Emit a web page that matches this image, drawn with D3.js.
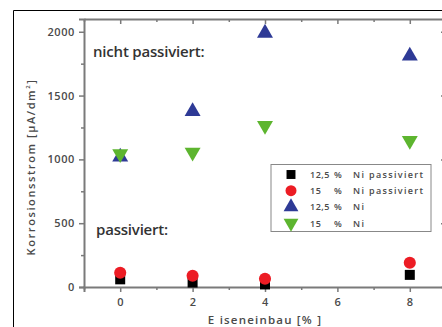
<!DOCTYPE html>
<html><head><meta charset="utf-8">
<script src="https://cdn.jsdelivr.net/npm/d3@7"></script>
<style>body{margin:0;background:#fff;overflow:hidden}svg{display:block}</style>
</head><body>
<script>
const xValues = [0, 2, 4, 8];
const seriesPct = ["12,5", "15", "12,5", "15"];
const seriesNames = ["Ni passiviert", "Ni passiviert", "Ni", "Ni"];
const ni125Passiv = [60, 35, 20, 95];
const ni15Passiv = [112, 88, 65, 190];
const ni125 = [1020, 1375, 1990, 1810];
const ni15 = [1043, 1055, 1265, 1148];
const xTicks = [0, 2, 4, 6, 8];
const yTicks = [0, 500, 1000, 1500, 2000];
const colors = ["#000000", "#ec1c24", "#2e3a96", "#5db52f"];
const shapes = ["square", "circle", "up", "down"];

const W = 442, H = 327;
const svg = d3.select("body").append("svg").attr("width", W).attr("height", H);
const x = d3.scaleLinear().domain([-1, 9]).range([84, 446]);
const y = d3.scaleLinear().domain([0, 2100]).range([287, 19]);
const axisColor = "#7a7a7a";
const textColor = "#4a4a4a";
const font = "'Open Sans', sans-serif";

// outer frame
svg.append("path").attr("d", "M13.5,330 V10.5 H445").attr("fill", "none").attr("stroke", "#000").attr("stroke-width", 1);

// axes
const gL = svg.append("g").attr("transform", `translate(${x(-1)},0)`);
gL.call(d3.axisLeft(y).tickValues(d3.range(0, 2101, 250)).tickSize(5).tickFormat(d => yTicks.includes(d) ? d : ""));
gL.selectAll(".tick line").attr("x2", d => yTicks.includes(d) ? -5 : -3);
const gB = svg.append("g").attr("transform", `translate(0,${y(0)})`);
gB.call(d3.axisBottom(x).tickValues(d3.range(-1, 10, 1)).tickSize(5).tickFormat(d => xTicks.includes(d) ? d : ""));
gB.selectAll(".tick line").attr("y2", d => xTicks.includes(d) ? 5 : 3);
const gT = svg.append("g").attr("transform", `translate(0,${y(2100)})`);
gT.call(d3.axisBottom(x).tickValues(d3.range(-1, 10, 1)).tickSize(0).tickFormat(""));
gT.selectAll(".tick line").attr("y2", d => xTicks.includes(d) ? 5 : 3);
const gR = svg.append("g").attr("transform", `translate(${x(9)},0)`);
gR.call(d3.axisLeft(y).tickValues(d3.range(0, 2101, 250)).tickSize(0).tickFormat(""));
gR.selectAll(".tick line").attr("x2", d => yTicks.includes(d) ? -5 : -3);
[gL, gB, gT, gR].forEach(g => {
  g.selectAll(".domain").attr("stroke", axisColor).attr("stroke-width", 2);
  g.selectAll(".tick line").attr("stroke", axisColor).attr("stroke-width", 1.5);
  g.selectAll("text").attr("fill", textColor).attr("font-family", font).attr("font-size", 11).attr("font-weight", 600).attr("letter-spacing", 0.6);
});
gL.selectAll("text").attr("x", -9);
gB.selectAll("text").attr("y", 11);

// annotations
svg.append("text").attr("x", 93).attr("y", 57).text("nicht passiviert:")
  .attr("font-family", font).attr("font-size", 15).attr("font-weight", 600).attr("fill", "#333").attr("letter-spacing", -0.2);
svg.append("text").attr("x", 96).attr("y", 235).text("passiviert:")
  .attr("font-family", font).attr("font-size", 15).attr("font-weight", 600).attr("fill", "#333").attr("letter-spacing", -0.2);

// axis titles
svg.append("text").attr("transform", "translate(35,167) rotate(-90)").attr("text-anchor", "middle")
  .attr("font-family", font).attr("font-size", 11).attr("font-weight", 600).attr("fill", textColor)
  .attr("letter-spacing", 1.6)
  .html('Korrosionsstrom  [µA/dm<tspan dy="-5" font-size="6">2</tspan><tspan dy="5">]</tspan>');
svg.append("text").attr("x", 265).attr("y", 324).attr("text-anchor", "middle")
  .attr("font-family", font).attr("font-size", 11.5).attr("font-weight", 600).attr("fill", textColor)
  .attr("letter-spacing", 1.2).text("E iseneinbau [% ]");

function symbolPath(shape, s) {
  if (shape === "square") return d3.symbol(d3.symbolSquare, s || 100)();
  if (shape === "circle") return d3.symbol(d3.symbolCircle, s || 115)();
  return d3.symbol(d3.symbolTriangle, s || 110)();
}

const allSeries = [ni125Passiv, ni15Passiv, ni125, ni15];
[2, 3, 0, 1].forEach(i => {
  svg.append("g").selectAll("path").data(allSeries[i]).join("path")
    .attr("d", symbolPath(shapes[i]))
    .attr("transform", (d, j) => `translate(${x(xValues[j])},${y(d)})` + (shapes[i] === "down" ? " rotate(180)" : ""))
    .attr("fill", colors[i]);
});

// legend
const lg = svg.append("g");
lg.append("rect").attr("x", 271).attr("y", 164.5).attr("width", 160).attr("height", 67)
  .attr("fill", "#fff").attr("stroke", "#888").attr("stroke-width", 1);
seriesNames.forEach((name, i) => {
  const yy = 174.5 + i * 16.2;
  lg.append("path").attr("d", symbolPath(shapes[i], shapes[i] === "square" ? 80 : 95))
    .attr("transform", `translate(291,${yy})` + (shapes[i] === "down" ? " rotate(180)" : "")).attr("fill", colors[i]);
  const t = { "font-family": font, "font-size": 9, "font-weight": 600, "fill": textColor };
  const parts = [[310, seriesPct[i], 0.5], [334, "%", 0], [353, name, 1.35]];
  parts.forEach(([px, s, ls]) => {
    const el = lg.append("text").attr("x", px).attr("y", yy + 3.5).text(s).attr("letter-spacing", ls);
    Object.entries(t).forEach(([k, v]) => el.attr(k, v));
  });
});
</script>
</body></html>
